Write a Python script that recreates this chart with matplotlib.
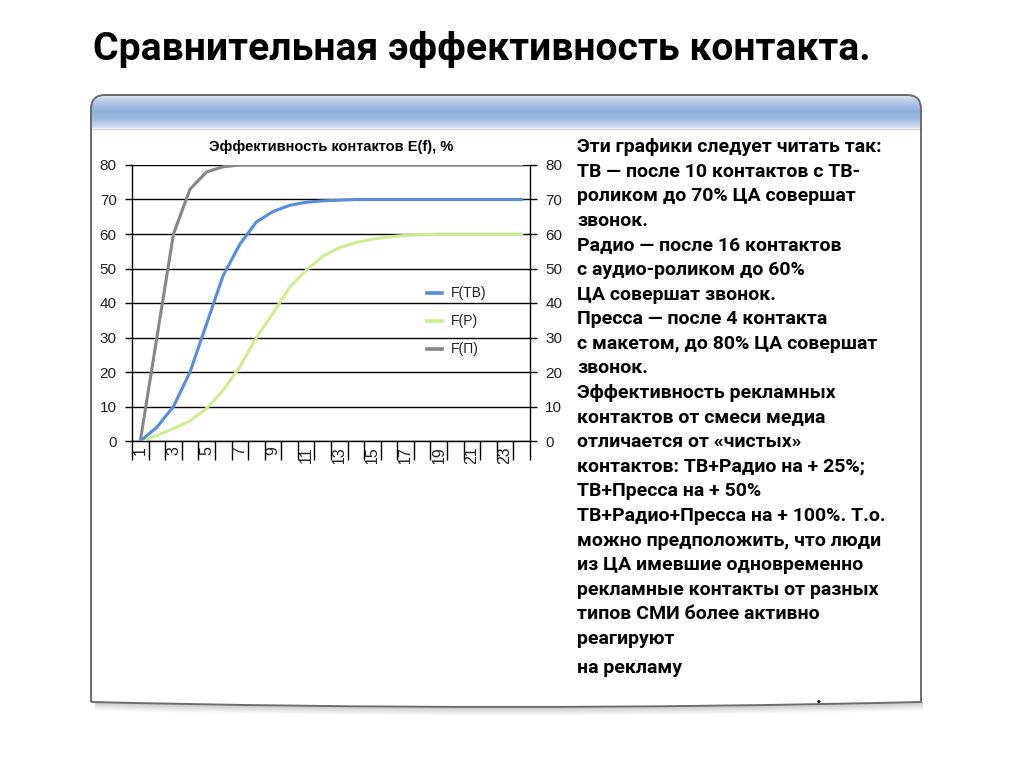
import numpy as np
import matplotlib
matplotlib.use('Agg')
import matplotlib.pyplot as plt
from matplotlib.path import Path
from matplotlib.patches import PathPatch, Rectangle

# data ########################################################################
contacts = list(range(1, 25))
tv = [0, 4, 10, 20, 34, 48, 57, 63.5, 66.5, 68.3, 69.2, 69.6, 69.8, 70,
      70, 70, 70, 70, 70, 70, 70, 70, 70, 70]
radio = [0, 1.6, 3.6, 5.8, 9.5, 14.7, 21.5, 30, 37, 44.5, 49.5, 53.5, 56,
         57.5, 58.5, 59.2, 59.6, 59.8, 60, 60, 60, 60, 60, 60]
press = [0, 30, 60, 73, 78, 79.5, 80, 80, 80, 80, 80, 80, 80, 80, 80, 80,
         80, 80, 80, 80, 80, 80, 80, 80]
series_names = ['F(ТВ)', 'F(Р)', 'F(П)']
yticks = [0, 10, 20, 30, 40, 50, 60, 70, 80]

slide_title = 'Сравнительная эффективность контакта.'
chart_title = 'Эффективность контактов E(f), %'
notes = [
    'Эти графики следует читать так:',
    'ТВ — после 10 контактов с ТВ-',
    'роликом до 70% ЦА совершат',
    'звонок.',
    'Радио — после 16 контактов',
    'с аудио-роликом до 60%',
    'ЦА совершат звонок.',
    'Пресса — после 4 контакта',
    'с макетом, до 80% ЦА совершат',
    'звонок.',
    'Эффективность рекламных',
    'контактов от смеси медиа',
    'отличается от «чистых»',
    'контактов: ТВ+Радио на + 25%;',
    'ТВ+Пресса на + 50%',
    'ТВ+Радио+Пресса на + 100%. Т.о.',
    'можно предположить, что люди',
    'из ЦА имевшие одновременно',
    'рекламные контакты от разных',
    'типов СМИ более активно',
    'реагируют',
]
last_note = 'на рекламу'

W, H = 1024, 767
narrow = ['Roboto', 'DejaVu Sans']
plt.rcParams['font.family'] = ['Liberation Sans', 'DejaVu Sans']

fig = plt.figure(figsize=(W / 100, H / 100), dpi=100)
renderer = fig.canvas.get_renderer()


def fit_size(text, target, base=20):
    # font size that makes the bold narrow text span `target` pixels
    t = fig.text(0, 0, text, family=narrow, fontweight='bold', fontsize=base)
    w = t.get_window_extent(renderer=renderer).width
    t.remove()
    return base * target / w


## - slide background in pixel coords ----------------------------------------
bg = fig.add_axes([0, 0, 1, 1], zorder=0)
bg.set_xlim(0, W)
bg.set_ylim(H, 0)
bg.axis('off')

L, R, T, B = 91, 921, 95, 702
r = 14
verts = [(L, B), (L, T + r), (L, T), (L + r, T), (R - r, T), (R, T),
         (R, T + r), (R, B), ((L + R) / 2, B + 10), (L, B)]
codes = [Path.MOVETO, Path.LINETO, Path.CURVE3, Path.CURVE3, Path.LINETO,
         Path.CURVE3, Path.CURVE3, Path.LINETO, Path.CURVE3, Path.CURVE3]
frame_path = Path(verts, codes)

# soft shadow under the bottom edge
for k, a in zip(range(1, 9), np.linspace(0.10, 0.01, 8)):
    sh = Path([(L + 4, B + k), ((L + R) / 2, B + 10 + k), (R + 2, B + k)],
              [Path.MOVETO, Path.CURVE3, Path.CURVE3])
    bg.add_patch(PathPatch(sh, fill=False, edgecolor='black', lw=1.5,
                           alpha=a))

bg.add_patch(PathPatch(frame_path, facecolor='white', edgecolor='none'))

# header gradient
stops_y = [0, 0.15, 0.5, 0.75, 1.0]
stops_c = [(0.88, 0.92, 0.97), (0.74, 0.81, 0.92), (0.55, 0.68, 0.85),
           (0.63, 0.74, 0.89), (0.85, 0.89, 0.95)]
yy = np.linspace(0, 1, 60)
grad = np.array([[np.interp(v, stops_y, [c[i] for c in stops_c])
                  for i in range(3)] for v in yy])[:, None, :]
im = bg.imshow(grad, extent=(L, R, 128, T), aspect='auto',
               interpolation='bilinear', zorder=1)
im.set_clip_path(PathPatch(frame_path, transform=bg.transData))
bg.plot([L, R], [128.5, 128.5], color='#c9d3e0', lw=1, zorder=2)

bg.add_patch(PathPatch(frame_path, facecolor='none', edgecolor='#6b6b6b',
                       lw=1.4, zorder=3))

bg.text(93, 60, slide_title, family=narrow, fontweight='bold',
        fontsize=fit_size(slide_title, 775), va='baseline', ha='left')

notes_size = fit_size(notes[15], 308)
for i, line in enumerate(notes):
    bg.text(577, 152 + i * 24.6, line, family=narrow, fontweight='bold',
            fontsize=notes_size, va='baseline', ha='left')
bg.text(577, 673, last_note, family=narrow, fontweight='bold',
        fontsize=notes_size, va='baseline', ha='left')
bg.text(816, 703, '.', family=narrow, fontweight='bold', fontsize=notes_size,
        va='baseline', ha='left')

## - chart ---------------------------------------------------------------------
ax = fig.add_axes([132 / W, 1 - 441 / H, 398 / W, 276 / H], zorder=1)
ax.set_facecolor('white')

ax.plot(contacts, press, color='#868686', lw=2.2, zorder=3)
ax.plot(contacts, radio, color='#cdee8e', lw=2.2, zorder=3)
ax.plot(contacts, tv, color='#568ddb', lw=2.2, zorder=4)

ax.set_xlim(0.5, 24.5)
ax.set_ylim(0, 80)
ax.set_yticks(yticks)
for v in yticks:
    ax.axhline(v, color='black', lw=1, zorder=2)

ax.spines['top'].set_visible(False)
for s in ['left', 'right', 'bottom']:
    ax.spines[s].set_linewidth(1)
    ax.spines[s].set_color('black')

ax.tick_params(axis='y', which='both', left=True, right=True,
               labelleft=True, labelright=True, direction='out', length=5,
               width=1, labelsize=11, pad=6, labelcolor='#222222')

# boundary ticks below the axis, labels at odd categories
ax.set_xticks(np.arange(0.5, 25, 1))
ax.set_xticklabels([])
ax.set_xticks(contacts[::2], minor=True)
ax.set_xticklabels([str(c) for c in contacts[::2]], minor=True,
                   rotation=90, fontsize=11.5, color='#222222')
ax.tick_params(axis='x', which='major', direction='out', length=14, width=1)
ax.tick_params(axis='x', which='minor', length=0, pad=4)

clip = Rectangle((0, 1 - 464 / H), 1, 1, transform=fig.transFigure)
for t in ax.xaxis.get_major_ticks() + ax.xaxis.get_minor_ticks():
    t.tick1line.set_clip_path(clip)
    t.label1.set_clip_on(True)
    t.label1.set_clip_path(clip)

fig.text(331 / W, 1 - 147 / H, chart_title, fontsize=10.5,
         fontweight='bold', ha='center', va='center', zorder=5)

# legend
leg_colors = ['#568ddb', '#cdee8e', '#868686']
leg_y = [293, 321, 349]
for name, c, y in zip(series_names, leg_colors, leg_y):
    fy = 1 - y / H
    fig.add_artist(plt.Line2D([427 / W, 442 / W], [fy, fy], color=c,
                              lw=2.6, zorder=5))
    fig.text(451 / W, fy, name, fontsize=10, ha='left', va='center',
             color='#222222', zorder=5)

fig.savefig('out.png', dpi=100)
